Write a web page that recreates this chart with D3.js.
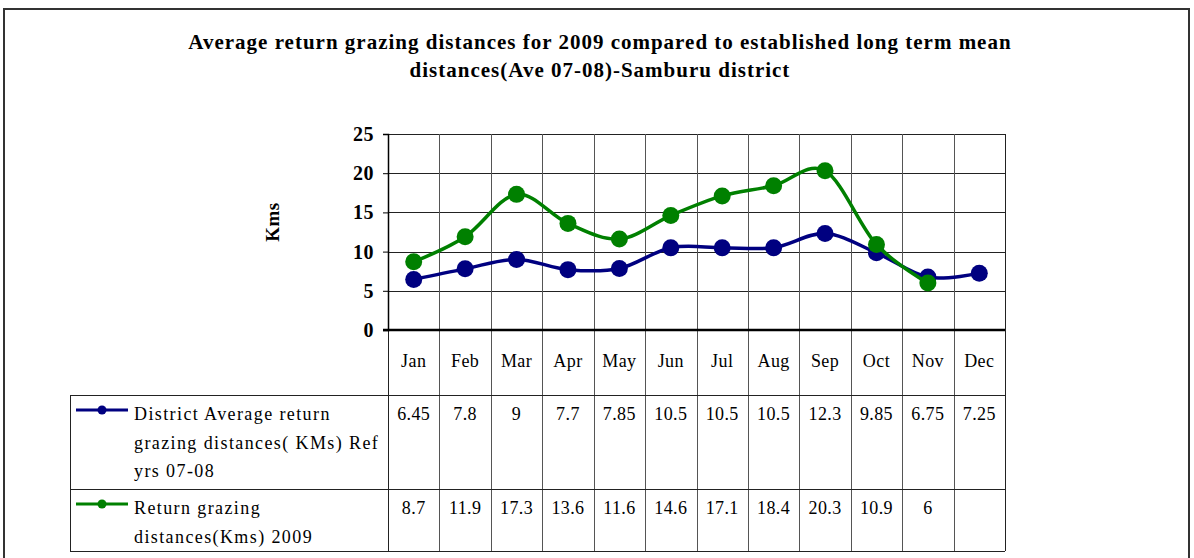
<!DOCTYPE html>
<meta charset="utf-8">
<style>
  body { margin: 0; background: #fff; }
  svg { font-family: "Liberation Serif", "Times New Roman", serif; }
  .grid line { stroke: #222; stroke-width: 1; shape-rendering: crispEdges; }
  .vgrid line { stroke: #555; stroke-width: 1; shape-rendering: crispEdges; }
  .tbl line { stroke: #222; stroke-width: 1; shape-rendering: crispEdges; }
  .axis text { font-family: "Liberation Serif", "Times New Roman", serif; font-weight: bold; font-size: 20px; fill: #000; letter-spacing: 0.5px; }
</style>
<body>
<script src="https://cdn.jsdelivr.net/npm/d3@7"></script>
<script>

var months = ["Jan","Feb","Mar","Apr","May","Jun","Jul","Aug","Sep","Oct","Nov","Dec"];
var districtAvg = [6.45, 7.8, 9, 7.7, 7.85, 10.5, 10.5, 10.5, 12.3, 9.85, 6.75, 7.25];
var returns2009 = [8.7, 11.9, 17.3, 13.6, 11.6, 14.6, 17.1, 18.4, 20.3, 10.9, 6, null];
var yTicks = [0, 5, 10, 15, 20, 25];

var titleLines = ["Average return grazing distances for 2009 compared to established long term mean",
                  "distances(Ave 07-08)-Samburu district"];
var series = [
    {name: ["District Average return", "grazing distances( KMs) Ref", "yrs 07-08"], values: districtAvg, color: "#000080"},
    {name: ["Return grazing", "distances(Kms) 2009"], values: returns2009, color: "#008000"}
];

var W = 1194, H = 558;
var plot = {left: 388, right: 1005, top: 134, bottom: 330};
var tableLeft = 70,
    rowLines = [395, 489, 551];

var svg = d3.select("body").append("svg")
    .attr("width", W)
    .attr("height", H);

svg.append("rect").attr("width", W).attr("height", H).attr("fill", "#fff");

// outer frame
svg.append("rect")
    .attr("x", 4).attr("y", 9)
    .attr("width", 1185).attr("height", 600)
    .attr("fill", "none")
    .attr("stroke", "#333")
    .attr("stroke-width", 2);

// title
svg.append("g").selectAll("text")
    .data(titleLines)
    .enter().append("text")
    .attr("x", 600)
    .attr("y", function(d, i) { return 49 + i * 28; })
    .attr("text-anchor", "middle")
    .style("font-weight", "bold")
    .style("font-size", "21px")
    .style("letter-spacing", "1px")
    .text(function(d) { return d; });

var x = d3.scaleBand().domain(months).range([plot.left, plot.right]);
var y = d3.scaleLinear().domain([0, 25]).range([plot.bottom, plot.top]);

// horizontal gridlines
svg.append("g").attr("class", "grid")
    .selectAll("line")
    .data(yTicks.slice(1))
    .enter().append("line")
    .attr("x1", plot.left).attr("x2", plot.right)
    .attr("y1", function(d) { return Math.round(y(d)) + 0.5; })
    .attr("y2", function(d) { return Math.round(y(d)) + 0.5; });

// vertical lines at month boundaries (through plot and table)
var bounds = months.map(function(m) { return x(m); }).concat([plot.right]);
svg.append("g").attr("class", "vgrid")
    .selectAll("line")
    .data(bounds)
    .enter().append("line")
    .attr("x1", function(d) { return Math.round(d) + 0.5; })
    .attr("x2", function(d) { return Math.round(d) + 0.5; })
    .attr("y1", plot.top)
    .attr("y2", rowLines[2])
    .style("stroke", function(d, i) { return (i == 0 || i == bounds.length - 1) ? "#222" : "#555"; });

// y axis
var yAxis = svg.append("g").attr("class", "axis")
    .attr("transform", "translate(" + plot.left + ",0)")
    .call(d3.axisLeft(y).tickValues(yTicks).tickSize(5).tickPadding(9));
yAxis.select(".domain").attr("stroke", "#000").attr("stroke-width", 1.5);
yAxis.selectAll(".tick line").attr("stroke", "#000");

// x baseline
svg.append("line")
    .attr("x1", plot.left - 5).attr("x2", plot.right)
    .attr("y1", plot.bottom).attr("y2", plot.bottom)
    .attr("stroke", "#000").attr("stroke-width", 2.5);

svg.append("text")
    .attr("transform", "translate(279,222) rotate(-90)")
    .attr("text-anchor", "middle")
    .style("font-weight", "bold")
    .style("font-size", "19px")
    .style("letter-spacing", "0.5px")
    .text("Kms");

// lines
var line = d3.line()
    .defined(function(d) { return d != null; })
    .x(function(d, i) { return x(months[i]) + x.bandwidth() / 2; })
    .y(function(d) { return y(d); })
    .curve(d3.curveCatmullRom.alpha(0));

series.forEach(function(s) {
    var g = svg.append("g");
    g.append("path")
        .attr("d", line(s.values))
        .attr("fill", "none")
        .attr("stroke", s.color)
        .attr("stroke-width", 3.5);
    g.selectAll("circle")
        .data(s.values.map(function(v, i) { return {v: v, i: i}; }).filter(function(d) { return d.v != null; }))
        .enter().append("circle")
        .attr("cx", function(d) { return x(months[d.i]) + x.bandwidth() / 2; })
        .attr("cy", function(d) { return y(d.v); })
        .attr("r", 8.5)
        .attr("fill", s.color);
});

// table
var tbl = svg.append("g").attr("class", "tbl");
tbl.selectAll("line.h")
    .data(rowLines)
    .enter().append("line")
    .attr("x1", tableLeft).attr("x2", plot.right)
    .attr("y1", function(d) { return d + 0.5; })
    .attr("y2", function(d) { return d + 0.5; });
tbl.append("line")
    .attr("x1", tableLeft + 0.5).attr("x2", tableLeft + 0.5)
    .attr("y1", rowLines[0]).attr("y2", rowLines[2]);

// month labels
svg.append("g").selectAll("text")
    .data(months)
    .enter().append("text")
    .attr("x", function(d) { return x(d) + x.bandwidth() / 2; })
    .attr("y", 367)
    .attr("text-anchor", "middle")
    .style("font-size", "18px")
    .style("letter-spacing", "0.4px")
    .text(function(d) { return d; });

// rows
series.forEach(function(s, r) {
    var top = rowLines[r];
    var g = svg.append("g");
    g.append("line")
        .attr("x1", 76).attr("x2", 128)
        .attr("y1", top + 15).attr("y2", top + 15)
        .attr("stroke", s.color).attr("stroke-width", 3);
    g.append("circle")
        .attr("cx", 102).attr("cy", top + 15).attr("r", 4.5)
        .attr("fill", s.color);
    g.selectAll("text.name")
        .data(s.name)
        .enter().append("text")
        .attr("x", 134)
        .attr("y", function(d, i) { return top + 25 + i * 28.5; })
        .style("font-size", "18px")
        .style("letter-spacing", "1.4px")
        .text(function(d) { return d; });
    g.selectAll("text.val")
        .data(s.values)
        .enter().append("text")
        .attr("x", function(d, i) { return x(months[i]) + x.bandwidth() / 2; })
        .attr("y", top + 25)
        .attr("text-anchor", "middle")
        .style("font-size", "18px")
        .style("letter-spacing", "0.4px")
        .text(function(d) { return d == null ? "" : d; });
});

</script>
</body>
